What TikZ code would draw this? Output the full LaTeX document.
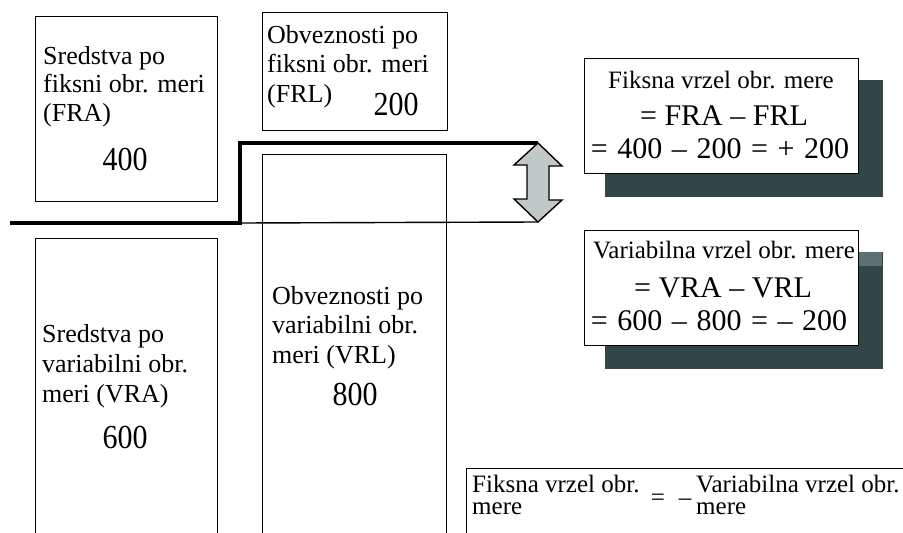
\documentclass[tikz,border=0pt]{standalone}
\usepackage{graphicx}
\usepackage{fontspec}
\setmainfont{Liberation Serif}
\definecolor{shadowgray}{RGB}{50,70,72}
\definecolor{shadowlight}{RGB}{92,114,114}
\definecolor{arrowgray}{RGB}{192,200,200}
\newcommand{\widespaces}{\spaceskip=0.32em\relax}
\newcommand{\tallnum}[1]{\scalebox{1}[1.12]{#1}}
\begin{document}
\begin{tikzpicture}[x=1pt,y=-1pt,
  box/.style={draw=black, line width=1.4pt, rectangle, inner sep=0pt, anchor=north west},
  lbl/.style={anchor=base west, inner sep=0pt, align=left},
  num/.style={anchor=base, inner sep=0pt, font=\fontsize{30}{34}\selectfont},
  eqbox/.style={draw=black, line width=1.4pt, fill=white, inner sep=0pt, anchor=north west,
                minimum width=274pt, minimum height=115pt},
  shadowbox/.style={fill=shadowgray, inner sep=0pt, anchor=north west,
                minimum width=278pt, minimum height=117pt},
  eqsmall/.style={anchor=base, inner sep=0pt, font=\fontsize{25}{28}\selectfont},
  eqbig/.style={anchor=base, inner sep=0pt, font=\fontsize{30}{34}\selectfont},
  eqwide/.style={eqbig, font=\fontsize{30}{34}\selectfont\widespaces},
  gapline/.style={line width=1.4pt},
  stepline/.style={line width=3.2pt}]
\useasboundingbox (0,0) rectangle (903,533);
\clip (0,0) rectangle (903,533);

% balance sheet blocks
\node[box, minimum width=182pt, minimum height=185pt] (fra) at (35,16) {};
\node[box, minimum width=185pt, minimum height=118pt] (frl) at (262,12) {};
\node[box, minimum width=184pt, minimum height=420pt] (vrl) at (262,154) {};
\node[box, minimum width=182pt, minimum height=340pt] (vra) at (35,238) {};

% multi-line labels are anchored at the baseline of their last line
\node[lbl, font=\fontsize{26}{28.5}\selectfont] (fratxt) at (43,121) {Sredstva po\\fiksni obr. meri\\(FRA)};
\node[num] (franum) at (125,170) {\tallnum{400}};
\node[lbl, font=\fontsize{26}{29.5}\selectfont] (frltxt) at (267,102) {Obveznosti po\\fiksni obr. meri\\(FRL)};
\node[num] (frlnum) at (396,115) {\tallnum{200}};
\node[lbl, font=\fontsize{26}{30}\selectfont] (vratxt) at (42,402) {Sredstva po\\variabilni obr.\\meri (VRA)};
\node[num] (vranum) at (125,448) {\tallnum{600}};
\node[lbl, font=\fontsize{26}{29.5}\selectfont] (vrltxt) at (272,363) {Obveznosti po\\variabilni obr.\\meri (VRL)};
\node[num] (vrlnum) at (355,405) {\tallnum{800}};

% boundary between fixed and variable rate items
\coordinate (lstart) at (10,223);
\coordinate (lstep) at (240,223);
\coordinate (ltop) at (538,143);
\coordinate (lbot) at (538,222);
\draw[gapline] (lstep) -- (lbot);
\draw[stepline] (lstart) -- (lstep) |- (ltop);

% gap arrow
\path[fill=arrowgray, draw=black, line width=1.4pt, line join=miter]
  (ltop) -- ++(24,23) -- ++(-13,0) -- ++(0,34) -- ++(13,0) -- (lbot)
  -- ++(-24,-23) -- ++(13,0) -- ++(0,-34) -- ++(-13,0) -- cycle;

% gap formulas
\node[shadowbox] (fgshadow) at (605,80) {};
\node[eqbox] (fg) at (584,58) {};
\node[eqsmall] (fg1) at (721,88) {Fiksna vrzel obr. mere};
\node[eqbig] (fg2) at (724,125) {= FRA – FRL};
\node[eqwide] (fg3) at (720,158) {= 400 – 200 = + 200};

\node[shadowbox] (vgshadow) at (605,252) {};
\fill[shadowlight] (858,252) rectangle (882,266);
\node[eqbox] (vg) at (584,230) {};
\node[eqsmall] (vg1) at (724,258) {Variabilna vrzel obr. mere};
\node[eqbig] (vg2) at (723,297) {= VRA – VRL};
\node[eqwide] (vg3) at (719,330) {= 600 – 800 = – 200};

% identity of the two gaps
\node[box, minimum width=500pt, minimum height=100pt] (ident) at (466,468) {};
\node[lbl, font=\fontsize{25}{21.5}\selectfont] (idl) at (472,514) {Fiksna vrzel obr.\\mere};
\node[anchor=base, inner sep=0pt, font=\fontsize{25}{28}\selectfont] (ideq) at (658,505) {=};
\node[anchor=base, inner sep=0pt, font=\fontsize{25}{28}\selectfont] (idneg) at (685,505) {–};
\node[lbl, font=\fontsize{25}{21.5}\selectfont] (idr) at (696,514) {Variabilna vrzel obr.\\mere};
\end{tikzpicture}
\end{document}
